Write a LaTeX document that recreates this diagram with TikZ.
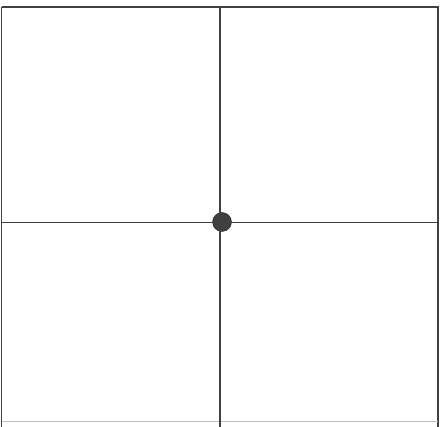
\documentclass[tikz,border=0pt]{standalone}
\begin{document}
\begin{tikzpicture}[x=1pt,y=-1pt,
  frame/.style={draw=black!75,line width=1.3pt},
  axis/.style={draw=black!75,line width=1.2pt},
  hub/.style={circle,fill=black!75,draw=black!85,minimum size=19pt,inner sep=0pt}]
\useasboundingbox (0,0) rectangle (444,427);
\fill[white] (0,0) rectangle (444,427);
\draw[frame] (1.5,7) -- (438,7) -- (438,427);
\draw[frame] (1.5,7) -- (1.5,427);
\draw[draw=black!25,line width=0.8pt] (1.5,421) -- (438,421);
\node[hub] (c) at (222,222) {};
\draw[axis] (220,7) -- (220,427);
\draw[axis] (1.5,222.5) -- (438,222.5);
\end{tikzpicture}
\end{document}
